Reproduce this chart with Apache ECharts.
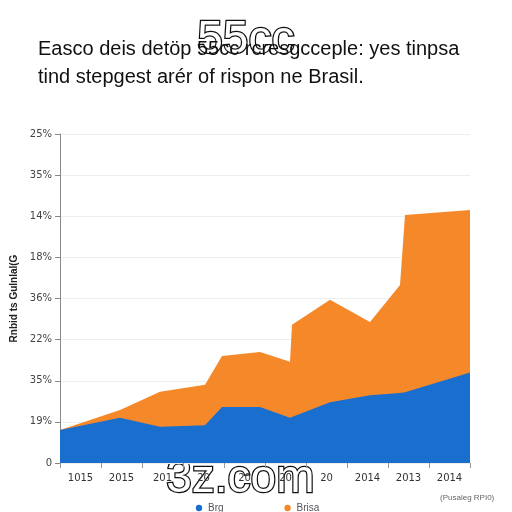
<!DOCTYPE html>
<html><head><meta charset="utf-8">
<script src="https://cdn.jsdelivr.net/npm/echarts@6/dist/echarts.min.js"></script>
<style>html,body{margin:0;background:#fff}#c{width:512px;height:512px}</style></head>
<body><div id="c"></div>
<script>
const xPos = [60,120,160,205,222,260,290,292,330,370,400,405,470];
const blueVals = [0.8,1.1,0.88,0.92,1.36,1.36,1.1,1.1,1.48,1.65,1.7,1.72,2.2];
const totalVals = [0.8,1.29,1.73,1.9,2.6,2.7,2.46,3.36,3.97,3.43,4.33,6.03,6.15];
const yTickLabels = ["0","19%","35%","22%","36%","18%","14%","35%","25%"];
const xTickLabels = ["1015","2015","201","20","20","20","20","2014","2013","2014"];
const chart = echarts.init(document.getElementById('c'));
chart.setOption({
  animation:false,
  title:{text:"Easco deis detöp 55cc rcresgcceple: yes tinpsa\ntind stepgest arér of rispon ne Brasil.",left:33,top:30,
    textStyle:{fontFamily:"Liberation Sans",fontSize:20,fontWeight:'normal',color:'#111',lineHeight:28}},
  grid:{left:60,right:42,top:134,bottom:49},
  xAxis:[
    {type:'value',min:60,max:470,show:false},
    {type:'category',data:xTickLabels,position:'bottom',boundaryGap:true,
     axisLine:{show:false},axisTick:{show:true,lineStyle:{color:'#999'}},
     axisLabel:{fontSize:10,color:'#333',margin:10,fontFamily:'DejaVu Sans'}}
  ],
  yAxis:{type:'value',min:0,max:8,interval:1,
    name:'Rnbid ts Gulnlal(G',nameLocation:'middle',nameGap:40,nameTextStyle:{fontSize:10,color:'#222',fontWeight:'bold'},
    axisLine:{show:true,lineStyle:{color:'#888'}},
    axisLabel:{formatter:v=>yTickLabels[v],fontSize:10,color:'#444',fontFamily:'DejaVu Sans'},
    splitLine:{lineStyle:{color:'#eee'}}},
  legend:{bottom:-6,left:190,itemGap:60,itemWidth:8,itemHeight:8,textStyle:{fontSize:10},data:['Brg','Brisa']},
  series:[
    {name:'Brisa',type:'line',xAxisIndex:0,symbol:'none',lineStyle:{width:0},
     itemStyle:{color:'#f5892a'},areaStyle:{color:'#f5892a',opacity:1},
     data:xPos.map((x,i)=>[x,totalVals[i]])},
    {name:'Brg',type:'line',xAxisIndex:0,symbol:'none',lineStyle:{width:0},
     itemStyle:{color:'#1a6fce'},areaStyle:{color:'#1a6fce',opacity:1},
     data:xPos.map((x,i)=>[x,blueVals[i]])}
  ],
  graphic:[
    {type:'text',left:440,top:494,style:{text:'(Pusaleg RPI0)',fontSize:8,fill:'#666'}},
    {type:'text',left:196,top:16,style:{text:'55cc',fontSize:46,fill:'#fff',stroke:'#111',lineWidth:2.5,fontFamily:'Liberation Sans'}},
    {type:'text',left:165,top:455,style:{text:'3z.com',fontSize:46,fill:'#fff',stroke:'#111',lineWidth:2.5,fontFamily:'Liberation Sans'}}
  ]
});
</script></body></html>
